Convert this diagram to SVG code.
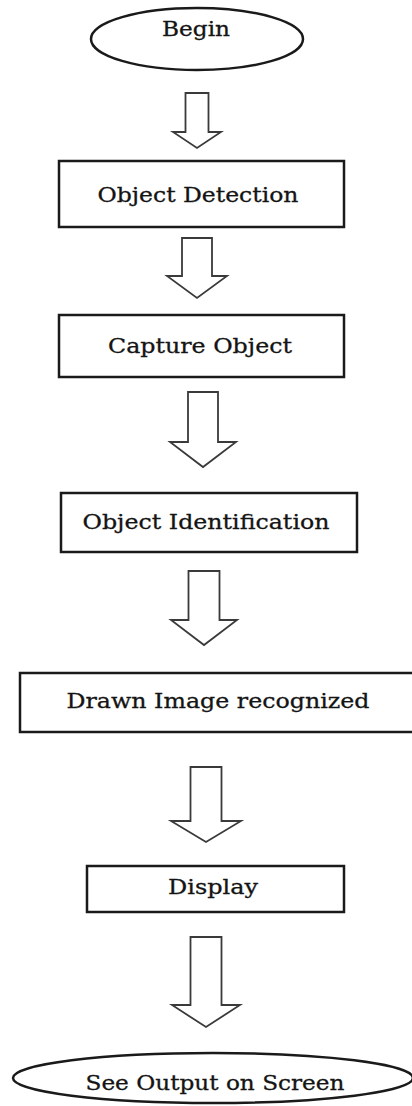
<svg xmlns="http://www.w3.org/2000/svg" width="412" height="1106" viewBox="0 0 412 1106">
  <style>
    .shape { fill: #ffffff; stroke: #1a1a1a; stroke-width: 2.5; }
    .arrow { fill: #ffffff; stroke: #3a3a3a; stroke-width: 1.8; stroke-linejoin: miter; }
    .label { font-family: "DejaVu Serif", "Liberation Serif", serif; font-size: 21px; fill: #141414; stroke: #141414; stroke-width: 0.3; text-anchor: middle; }
  </style>
  <rect width="412" height="1106" fill="#ffffff"/>

  <!-- block arrows between steps -->
  <g id="connectors">
    <path class="arrow" d="M185.5,93 H208.5 V132 H221 L197,148 L173,132 H185.5 Z"/>
    <path class="arrow" d="M182,238 H212 V276 H227 L197,298 L167,276 H182 Z"/>
    <path class="arrow" d="M188,392 H218 V442 H236 L203,467 L170,442 H188 Z"/>
    <path class="arrow" d="M188.5,571 H219.5 V620 H237 L204,645 L171,620 H188.5 Z"/>
    <path class="arrow" d="M190.5,767 H221.5 V821 H241 L206,842 L171,821 H190.5 Z"/>
    <path class="arrow" d="M190.5,937 H221.5 V1005 H240 L206,1027 L172,1005 H190.5 Z"/>
  </g>

  <g id="begin">
    <ellipse class="shape" cx="197" cy="39" rx="106" ry="31"/>
    <text class="label" x="196" y="36" textLength="68" lengthAdjust="spacingAndGlyphs">Begin</text>
  </g>

  <g id="object-detection">
    <rect class="shape" x="59" y="161" width="285" height="66"/>
    <text class="label" x="198" y="202" textLength="201" lengthAdjust="spacingAndGlyphs">Object Detection</text>
  </g>

  <g id="capture-object">
    <rect class="shape" x="59" y="315" width="285" height="62"/>
    <text class="label" x="200" y="353" textLength="184" lengthAdjust="spacingAndGlyphs">Capture Object</text>
  </g>

  <g id="object-identification">
    <rect class="shape" x="61" y="493" width="296" height="59"/>
    <text class="label" x="206" y="529" textLength="247" lengthAdjust="spacingAndGlyphs">Object Identification</text>
  </g>

  <g id="drawn-image-recognized">
    <rect class="shape" x="20" y="673" width="400" height="59"/>
    <text class="label" x="218" y="708" textLength="303" lengthAdjust="spacingAndGlyphs">Drawn Image recognized</text>
  </g>

  <g id="display">
    <rect class="shape" x="87" y="866" width="257" height="46"/>
    <text class="label" x="213" y="894" textLength="90" lengthAdjust="spacingAndGlyphs">Display</text>
  </g>

  <g id="see-output">
    <ellipse class="shape" cx="213" cy="1078" rx="200" ry="25"/>
    <text class="label" x="215" y="1090" textLength="259" lengthAdjust="spacingAndGlyphs">See Output on Screen</text>
  </g>
</svg>
